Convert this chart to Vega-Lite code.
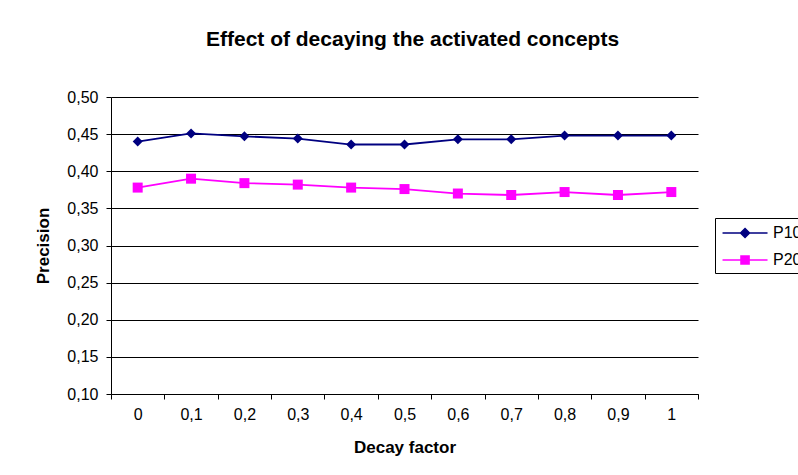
{
  "$schema": "https://vega.github.io/schema/vega-lite/v6.json",
  "autosize": "none",
  "width": 587,
  "height": 297,
  "padding": {"left": 111, "top": 97, "right": 100, "bottom": 81},
  "background": "white",
  "title": {
    "text": "Effect of decaying the activated concepts",
    "font": "Liberation Sans",
    "fontSize": 21,
    "fontWeight": "bold",
    "color": "#000000",
    "anchor": "middle",
    "frame": "group",
    "baseline": "alphabetic",
    "offset": 22,
    "dx": 8
  },
  "data": {
    "values": [
      {"decay": "0", "series": "P10", "precision": 0.440},
      {"decay": "0,1", "series": "P10", "precision": 0.451},
      {"decay": "0,2", "series": "P10", "precision": 0.447},
      {"decay": "0,3", "series": "P10", "precision": 0.444},
      {"decay": "0,4", "series": "P10", "precision": 0.436},
      {"decay": "0,5", "series": "P10", "precision": 0.436},
      {"decay": "0,6", "series": "P10", "precision": 0.443},
      {"decay": "0,7", "series": "P10", "precision": 0.443},
      {"decay": "0,8", "series": "P10", "precision": 0.448},
      {"decay": "0,9", "series": "P10", "precision": 0.448},
      {"decay": "1", "series": "P10", "precision": 0.448},
      {"decay": "0", "series": "P20", "precision": 0.378},
      {"decay": "0,1", "series": "P20", "precision": 0.390},
      {"decay": "0,2", "series": "P20", "precision": 0.384},
      {"decay": "0,3", "series": "P20", "precision": 0.382},
      {"decay": "0,4", "series": "P20", "precision": 0.378},
      {"decay": "0,5", "series": "P20", "precision": 0.376},
      {"decay": "0,6", "series": "P20", "precision": 0.370},
      {"decay": "0,7", "series": "P20", "precision": 0.368},
      {"decay": "0,8", "series": "P20", "precision": 0.372},
      {"decay": "0,9", "series": "P20", "precision": 0.368},
      {"decay": "1", "series": "P20", "precision": 0.372}
    ]
  },
  "encoding": {
    "x": {
      "field": "decay",
      "type": "ordinal",
      "sort": null,
      "scale": {"type": "band", "paddingInner": 0, "paddingOuter": 0},
      "axis": {
        "title": "Decay factor",
        "titleFont": "Liberation Sans",
        "titleFontSize": 17,
        "titleFontWeight": "bold",
        "titleColor": "#000000",
        "titlePadding": 17,
        "labelFont": "Liberation Sans",
        "labelFontSize": 16,
        "labelColor": "#000000",
        "labelAngle": 0,
        "labelPadding": 7,
        "tickBand": "extent",
        "ticks": true,
        "tickSize": 5,
        "tickColor": "#000000",
        "domainColor": "#000000",
        "domainWidth": 1,
        "grid": false
      }
    },
    "y": {
      "field": "precision",
      "type": "quantitative",
      "scale": {"domain": [0.1, 0.5], "nice": false, "zero": false},
      "axis": {
        "title": "Precision",
        "titleFont": "Liberation Sans",
        "titleFontSize": 17,
        "titleFontWeight": "bold",
        "titleColor": "#000000",
        "titlePadding": 14,
        "values": [0.1, 0.15, 0.2, 0.25, 0.3, 0.35, 0.4, 0.45, 0.5],
        "labelExpr": "replace(format(datum.value, '.2f'), '.', ',')",
        "labelFont": "Liberation Sans",
        "labelFontSize": 16,
        "labelColor": "#000000",
        "labelPadding": 8,
        "tickSize": 5,
        "tickColor": "#000000",
        "domainColor": "#000000",
        "grid": true,
        "gridColor": "#000000",
        "gridWidth": 1
      }
    },
    "color": {
      "field": "series",
      "type": "nominal",
      "scale": {"domain": ["P10", "P20"], "range": ["#000080", "#FF00FF"]},
      "legend": {
        "title": null,
        "orient": "none",
        "legendX": 604,
        "legendY": 121,
        "padding": 5,
        "strokeColor": "#000000",
        "fillColor": "#FFFFFF",
        "labelFont": "Liberation Sans",
        "labelFontSize": 16,
        "labelColor": "#000000",
        "labelOffset": 33,
        "symbolSize": 324,
        "symbolStrokeWidth": 1.5,
        "symbolOpacity": 1,
        "rowPadding": 9,
        "encode": {
          "symbols": {
            "update": {
              "shape": {"signal": "datum.value === 'P10' ? 'M-0.83,0H4.17M1.67,-0.5L2.17,0L1.67,0.5L1.17,0Z' : 'M-0.83,0H4.17M1.22,-0.45H2.12V0.45H1.22Z'"},
              "fill": {"signal": "datum.value === 'P10' ? '#000080' : '#FF00FF'"},
              "stroke": {"signal": "datum.value === 'P10' ? '#000080' : '#FF00FF'"}
            }
          }
        }
      }
    }
  },
  "layer": [
    {
      "mark": {"type": "line", "strokeWidth": 1.8},
      "encoding": {}
    },
    {
      "mark": {"type": "point", "filled": true, "opacity": 1, "size": 100},
      "encoding": {
        "shape": {
          "condition": {"test": "datum.series === 'P10'", "value": "diamond"},
          "value": "square"
        }
      }
    }
  ],
  "config": {
    "font": "Liberation Sans",
    "view": {"stroke": null}
  }
}
